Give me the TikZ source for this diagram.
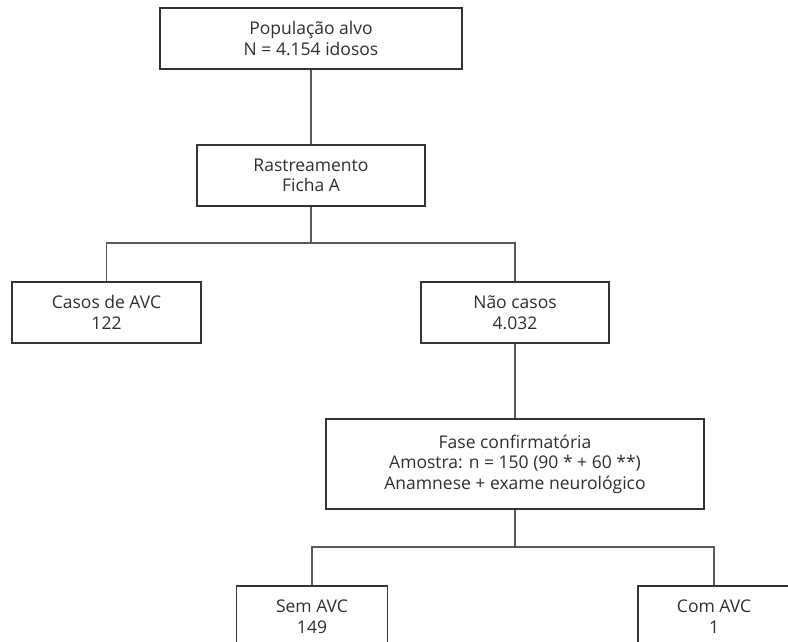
\documentclass[tikz,border=0pt]{standalone}
\usepackage{fontspec}
\setmainfont{Open Sans}
\usetikzlibrary{math}

\tikzset{
	boite/.style={draw=black!80, line width=1.1pt, text=black!82, align=center,
		inner sep=0pt, minimum height=61pt, font=\fontsize{17.5}{20.5}\selectfont},
	trait/.style={draw=black!65, line width=1.1pt},
}

\begin{document}
\begin{tikzpicture}[x=1pt,y=-1pt]

	\tikzmath{\xa = 311; \xb = 515; \ya = 243; \yb = 547;}
	\clip (0,0) rectangle (788,642);

	% niveau 1 et 2
	\node[boite,minimum width=302pt] (pop) at (\xa,38.5) {População alvo\\ N = 4.154 idosos};
	\node[boite,minimum width=228pt] (rast) at (\xa,175.5) {Rastreamento\\ Ficha A};

	% niveau 3
	\node[boite,minimum width=189pt] (casos) at (106.5,312.5) {Casos de AVC\\ 122};
	\node[boite,minimum width=188pt] (nao) at (\xb,312.5) {Não casos\\ 4.032};

	% phase confirmatoire
	\node[boite,minimum width=378pt,minimum height=90pt] (fase) at (\xb,464)
		{Fase confirmatória\\ Amostra: n = 150 (90 * + 60 **)\\ Anamnese + exame neurológico};

	% niveau 5 (coupe en bas)
	\node[boite,minimum width=151pt] (sem) at (312,616.5) {Sem AVC\\ 149};
	\node[boite,minimum width=152pt] (com) at (714,616.5) {Com AVC\\ 1};

	\coordinate (r1) at (\xa,\ya);
	\coordinate (f1) at (\xb,\yb);

	\draw[trait] (pop) -- (rast);
	\draw[trait] (rast) -- (r1);
	\draw[trait] (casos) |- (r1) -| (nao);
	\draw[trait] (nao) -- (fase);
	\draw[trait] (fase) -- (f1);
	\draw[trait] (sem) |- (f1) -| (com);
\end{tikzpicture}
\end{document}
